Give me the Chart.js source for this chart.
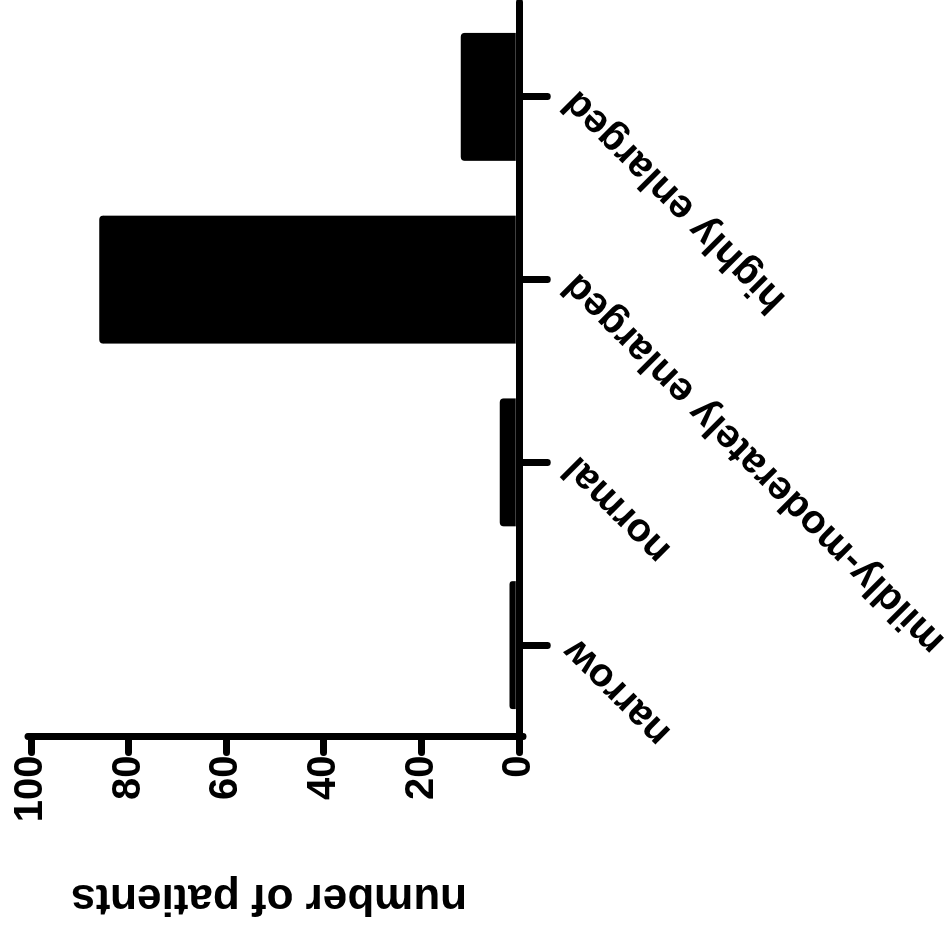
<!DOCTYPE html>
<html>
<head>
<meta charset="utf-8">
<script src="https://cdn.jsdelivr.net/npm/chart.js@4/dist/chart.umd.min.js"></script>
<style>
  html, body { margin: 0; padding: 0; background: #fff; overflow: hidden; width: 952px; height: 944px; }
  /* the bar chart is laid out upright and then turned a quarter turn counter-clockwise */
  #wrap { position: absolute; left: 4px; top: -4px; width: 944px; height: 952px;
          transform: rotate(-90deg); transform-origin: 50% 50%; }
  canvas { display: block; }
</style>
</head>
<body>
<div id="wrap"><canvas id="chart" width="944" height="952"></canvas></div>
<script>
const categories = ['narrow', 'normal', 'mildly-moderately enlarged', 'highly enlarged'];
const patientCounts = [2, 4, 86, 12];
const valueTicks = [0, 20, 40, 60, 80, 100];
const valueTitle = '\u00a0number of patients';

const FONT_FAMILY = '"Liberation Sans", Arial, Helvetica, sans-serif';
const INK = '#000000';

// rounded ends on axis lines and tick marks
const roundCaps = {
  id: 'roundCaps',
  beforeDraw(chart) { chart.ctx.lineCap = 'round'; }
};

new Chart(document.getElementById('chart'), {
  type: 'bar',
  data: {
    labels: categories,
    datasets: [{
      data: patientCounts,
      backgroundColor: INK,
      borderWidth: 0,
      borderRadius: 4,
      borderSkipped: 'start',
      categoryPercentage: 1.0,
      barPercentage: 0.70
    }]
  },
  options: {
    responsive: false,
    animation: false,
    devicePixelRatio: 1,
    layout: { padding: { top: 31, right: 5.5, bottom: 0, left: 0 } },
    plugins: { legend: { display: false }, tooltip: { enabled: false } },
    scales: {
      x: {
        offset: true,
        grid: { display: true, offset: false, drawOnChartArea: false, drawTicks: true,
                tickLength: 28, color: INK, lineWidth: 7 },
        border: { display: true, color: INK, width: 7 },
        ticks: { autoSkip: false, minRotation: 45, maxRotation: 45, padding: 6, color: INK,
                 font: { family: FONT_FAMILY, size: 40, weight: 'bold' } },
        afterFit(scale) { scale.height = 952 - 519.3; }
      },
      y: {
        min: 0,
        max: 100,
        afterBuildTicks(scale) { scale.ticks = valueTicks.map(v => ({ value: v })); },
        grid: { display: true, drawOnChartArea: false, drawTicks: true,
                tickLength: 16, color: INK, lineWidth: 7 },
        border: { display: true, color: INK, width: 7 },
        ticks: { padding: 3, color: INK,
                 font: { family: FONT_FAMILY, size: 40, weight: 'bold' } },
        title: { display: true, text: valueTitle, color: INK, padding: { top: 20, bottom: 0 },
                 font: { family: FONT_FAMILY, size: 44, weight: 'bold' } },
        afterFit(scale) { scale.width = 207.5; }
      }
    }
  },
  plugins: [roundCaps]
});
</script>
</body>
</html>
